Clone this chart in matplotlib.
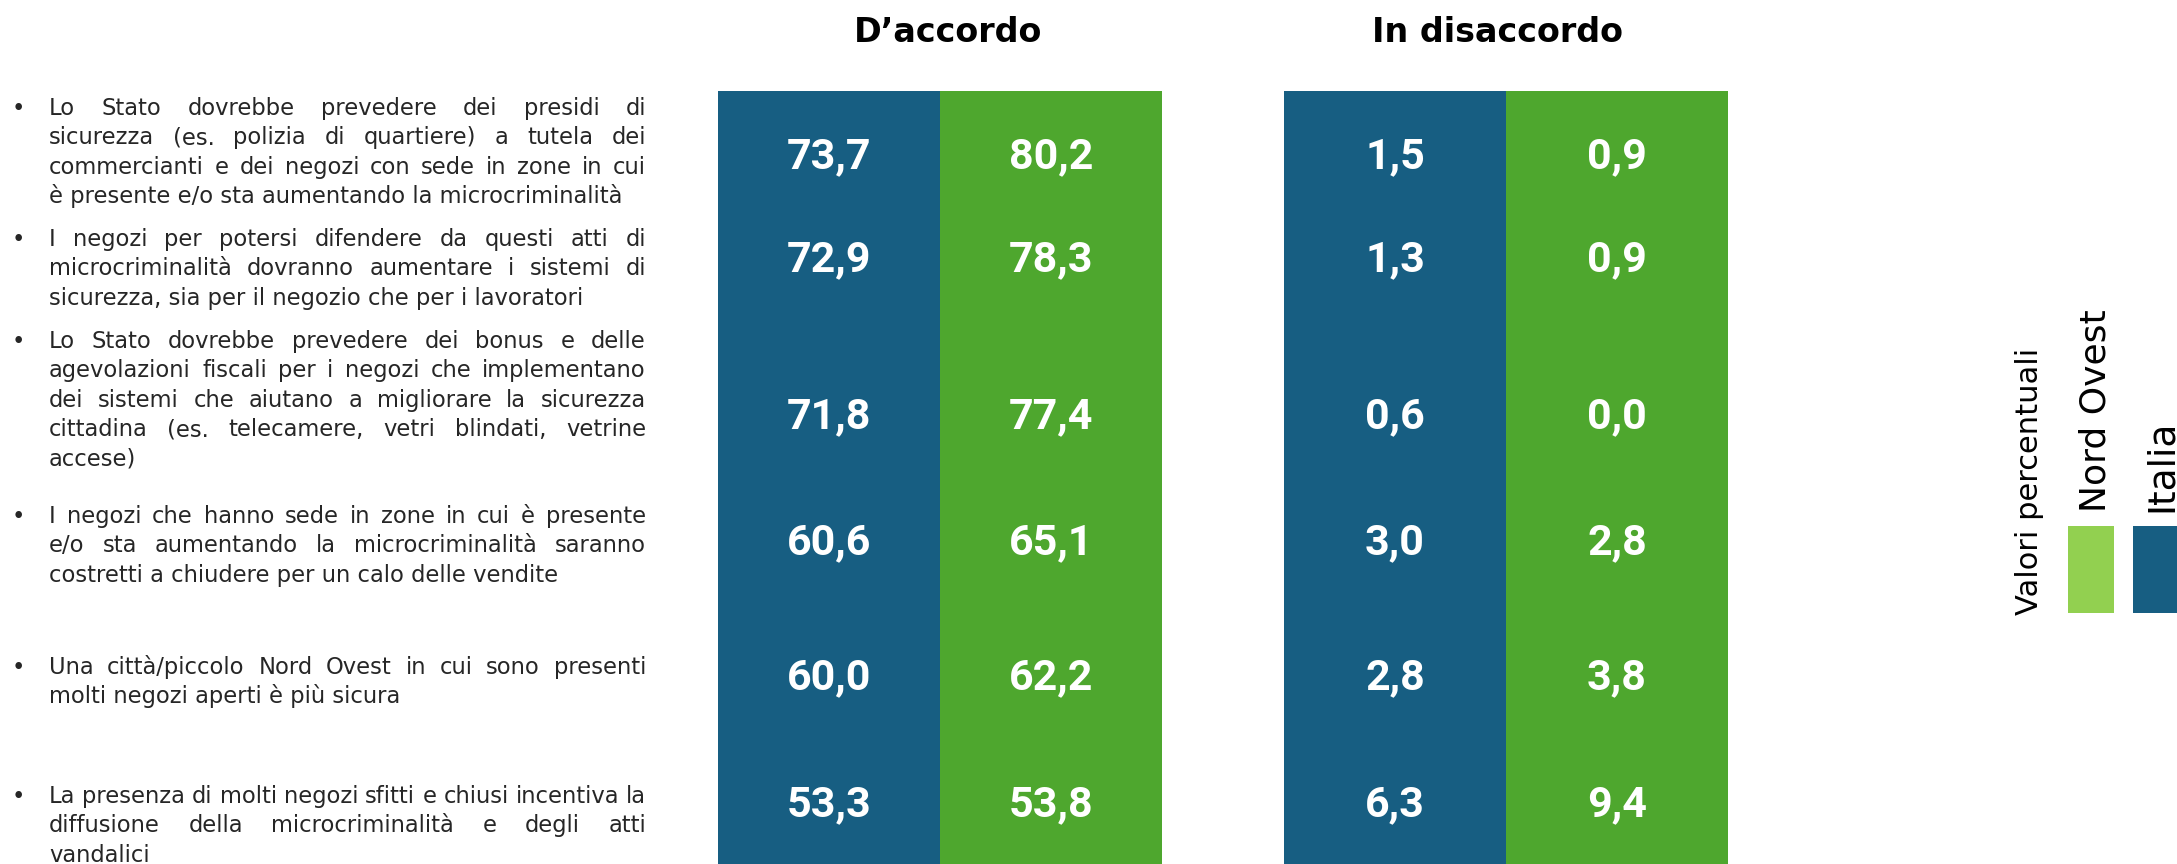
import matplotlib
matplotlib.use("Agg")
import matplotlib.pyplot as plt
from matplotlib.font_manager import FontProperties
from matplotlib.patches import Rectangle

# ---------------- data ----------------
headers = ["D\u2019accordo", "In disaccordo"]
series_names = ["Italia", "Nord Ovest"]
agree_italia = [73.7, 72.9, 71.8, 60.6, 60.0, 53.3]
agree_nordovest = [80.2, 78.3, 77.4, 65.1, 62.2, 53.8]
disagree_italia = [1.5, 1.3, 0.6, 3.0, 2.8, 6.3]
disagree_nordovest = [0.9, 0.9, 0.0, 2.8, 3.8, 9.4]
legend_title = "Valori percentuali"

statements = [
    ["Lo Stato dovrebbe prevedere dei presidi di",
     "sicurezza (es. polizia di quartiere) a tutela dei",
     "commercianti e dei negozi con sede in zone in cui",
     "è presente e/o sta aumentando la microcriminalità"],
    ["I negozi per potersi difendere da questi atti di",
     "microcriminalità dovranno aumentare i sistemi di",
     "sicurezza, sia per il negozio che per i lavoratori"],
    ["Lo Stato dovrebbe prevedere dei bonus e delle",
     "agevolazioni fiscali per i negozi che implementano",
     "dei sistemi che aiutano a migliorare la sicurezza",
     "cittadina (es. telecamere, vetri blindati, vetrine",
     "accese)"],
    ["I negozi che hanno sede in zone in cui è presente",
     "e/o sta aumentando la microcriminalità saranno",
     "costretti a chiudere per un calo delle vendite"],
    ["Una città/piccolo Nord Ovest in cui sono presenti",
     "molti negozi aperti è più sicura"],
    ["La presenza di molti negozi sfitti e chiusi incentiva la",
     "diffusione della microcriminalità e degli atti",
     "vandalici"],
]

# ---------------- layout (pixels) ----------------
W, H = 2177, 864
BLUE = "#175E82"
GREEN = "#4EA72E"
LGREEN = "#92D050"
TXT = "#262626"

col_centers = [829, 1051, 1395, 1617]
col_width = 222
col_top = 91
header_x = [948, 1497]
header_baseline = 42
value_rows_y = [157, 260, 417, 543, 678, 805]
para_first_y = [109, 240, 342, 517, 668, 797]
line_step = 29.4
text_left, text_right, bullet_x = 49, 646, 18

fig = plt.figure(figsize=(W / 100, H / 100), dpi=100)
ax = fig.add_axes([0, 0, 1, 1])
ax.set_xlim(0, W)
ax.set_ylim(H, 0)
ax.axis("off")

# columns
columns = [agree_italia, agree_nordovest, disagree_italia, disagree_nordovest]
colors = [BLUE, GREEN, BLUE, GREEN]
for xc, vals, c in zip(col_centers, columns, colors):
    ax.bar(xc, H - col_top, bottom=col_top, width=col_width, color=c,
           linewidth=0, edgecolor="none")
    for v, y in zip(vals, value_rows_y):
        ax.text(xc, y, f"{v:.1f}".replace(".", ","), ha="center", va="center",
                color="white", fontsize=31, fontweight="bold",
                family=["Roboto", "DejaVu Sans"])

for hx, h in zip(header_x, headers):
    ax.text(hx, header_baseline, h, ha="center", va="baseline", fontsize=24,
            fontweight="bold", family="DejaVu Sans", color="black")

# justified statements
renderer = fig.canvas.get_renderer()
fs = 16.3


def tw(s, prop):
    w, h, d = renderer.get_text_width_height_descent(s, prop, ismath=False)
    return w


avail = text_right - text_left

for p, y0 in zip(statements, para_first_y):
    ax.text(bullet_x, y0 + 6, "\u2022", ha="center", va="baseline",
            fontsize=fs, color=TXT, family="DejaVu Sans")
    for i, line in enumerate(p):
        y = y0 + i * line_step + 6
        words = line.split(" ")
        last = (i == len(p) - 1)
        lfs = fs
        fp = FontProperties(family="DejaVu Sans", size=lfs)
        # shrink only lines that would not fit with a small word gap
        mingap = 0.2 * lfs * 100 / 72
        nat = sum(tw(w_, fp) for w_ in words) + mingap * (len(words) - 1)
        if nat > avail:
            lfs = lfs * avail / nat
            fp = FontProperties(family="DejaVu Sans", size=lfs)
        if last or len(words) == 1:
            ax.text(text_left, y, line, ha="left", va="baseline",
                    fontproperties=fp, color=TXT)
            continue
        widths = [tw(w_, fp) for w_ in words]
        gap = (avail - sum(widths)) / (len(words) - 1)
        x = text_left
        for w_, ww in zip(words, widths):
            ax.text(x, y, w_, ha="left", va="baseline", fontproperties=fp,
                    color=TXT)
            x += ww + gap

# legend
ax.add_patch(Rectangle((2068, 526), 46, 87, color=LGREEN, linewidth=0))
ax.add_patch(Rectangle((2133, 526), 46, 87, color=BLUE, linewidth=0))
ax.text(2038, 615, legend_title, rotation=90, rotation_mode="anchor",
        ha="left", va="baseline", fontsize=22, color="black",
        family="DejaVu Sans")
ax.text(2106, 512, series_names[1], rotation=90, rotation_mode="anchor",
        ha="left", va="baseline", fontsize=26, color="black",
        family="DejaVu Sans")
ax.text(2172, 512, series_names[0], rotation=90, rotation_mode="anchor",
        ha="left", va="baseline", fontsize=27, color="black",
        family="DejaVu Sans")

fig.savefig("out.png", dpi=100)
